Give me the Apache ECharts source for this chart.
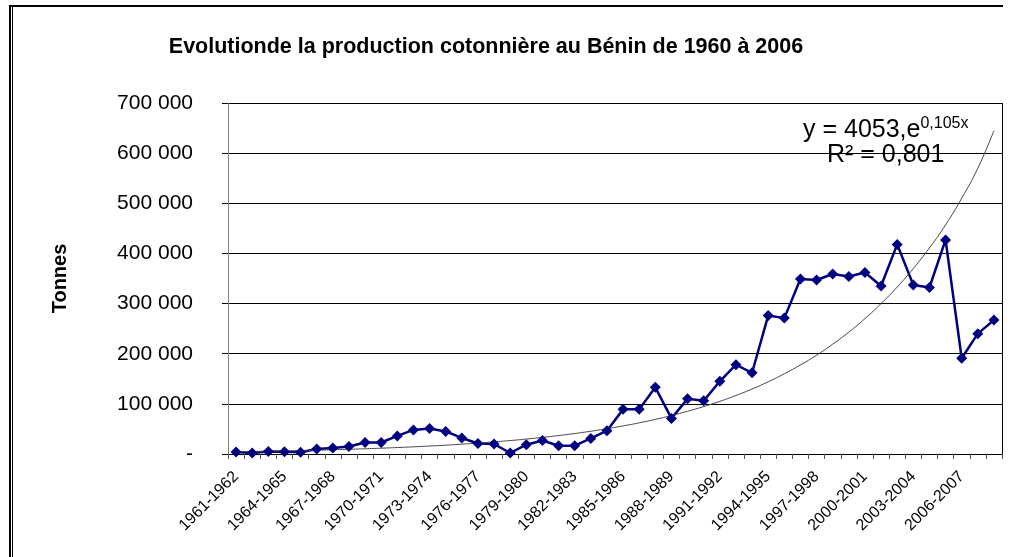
<!DOCTYPE html>
<html>
<head>
<meta charset="utf-8">
<title>Production cotonnière au Bénin</title>
<script src="https://cdn.jsdelivr.net/npm/echarts@6/dist/echarts.min.js"></script>
<style>
  html, body { margin: 0; padding: 0; background: #fff; }
  #chart { width: 1012px; height: 557px; }
</style>
</head>
<body>
<div id="chart"></div>
<script>
// campagnes 1961-1962 ... 2008-2009
var startYears = [];
for (var y = 1961; y <= 2008; y++) startYears.push(y);
var campagnes = startYears.map(function (y) { return y + '-' + (y + 1); });

// production (tonnes)
var production = [
  4000, 2000, 5000, 4600, 3300, 10000, 12000, 15000, 23000, 23000,
  36000, 48000, 51000, 45000, 32000, 21000, 20000, 2000, 18500, 27000,
  16500, 16500, 31000, 46500, 89000, 89000, 133000, 71000, 110000, 106000,
  145000, 178000, 162000, 276000, 271000, 349000, 347000, 359000, 354000, 362000,
  335000, 418000, 337000, 332000, 427000, 191000, 240000, 267000
];

// courbe de tendance exponentielle
var tendance = [
  4500, 5000, 5550, 6200, 6850, 7600, 8450, 9400, 10400, 11600,
  12900, 14300, 15900, 17600, 19600, 21700, 24200, 26800, 29800, 33100,
  36800, 40800, 45400, 50400, 56000, 62100, 69000, 76700, 85200, 94600,
  105000, 116700, 129600, 144000, 160000, 177600, 197000, 219000, 243000, 270000,
  300000, 333000, 370000, 411000, 457000, 510000, 570000, 645000
];

var yTicks = [0, 100000, 200000, 300000, 400000, 500000, 600000, 700000];

function fmt(v) {
  if (v === 0) return '-';
  return String(v).replace(/\B(?=(\d{3})+(?!\d))/g, ' ');
}

var chart = echarts.init(document.getElementById('chart'));
chart.setOption({
  animation: false,
  backgroundColor: '#fff',
  textStyle: { fontFamily: 'Liberation Sans, Arial, sans-serif' },
  title: {
    text: 'Evolutionde la production cotonnière au Bénin de 1960 à 2006',
    left: 481, top: 31, textAlign: 'center',
    textStyle: { fontSize: 21.5, fontWeight: 'bold', color: '#000' }
  },
  grid: { left: 228, right: 10, top: 103, bottom: 103 },
  xAxis: {
    type: 'category',
    data: campagnes,
    boundaryGap: true,
    axisLine: { lineStyle: { color: '#000', width: 1 } },
    axisTick: { show: true, interval: 0, length: 5, lineStyle: { color: '#555' } },
    axisLabel: { interval: 2, rotate: 45, fontSize: 16, color: '#000', margin: 20 },
    splitLine: { show: false }
  },
  yAxis: {
    type: 'value',
    min: yTicks[0], max: yTicks[yTicks.length - 1], interval: 100000,
    name: 'Tonnes', nameLocation: 'middle', nameRotate: 90, nameGap: 158,
    nameTextStyle: { fontSize: 20, fontWeight: 'bold', color: '#000' },
    axisLine: { show: true, lineStyle: { color: '#808080' } },
    axisTick: { show: true, length: 6, lineStyle: { color: '#000' } },
    axisLabel: { formatter: fmt, fontSize: 21, color: '#000', margin: 35 },
    splitLine: { lineStyle: { color: '#000', width: 1 } }
  },
  series: [
    {
      name: 'Production',
      type: 'line',
      data: production,
      symbol: 'diamond',
      symbolSize: 11,
      showAllSymbol: true,
      lineStyle: { color: '#000080', width: 2.5 },
      itemStyle: { color: '#000080' }
    },
    {
      name: 'Tendance',
      type: 'line',
      data: tendance,
      symbol: 'none',
      smooth: true,
      lineStyle: { color: '#444', width: 1 }
    }
  ],
  graphic: [
    { type: 'rect', shape: { x: 9, y: 5, width: 994, height: 2 }, style: { fill: '#000' } },
    { type: 'rect', shape: { x: 9, y: 5, width: 2, height: 552 }, style: { fill: '#000' } },
    { type: 'rect', shape: { x: 12, y: 5, width: 1, height: 552 }, style: { fill: '#000' } },
    { type: 'line', shape: { x1: 1002.5, y1: 103, x2: 1002.5, y2: 454 }, style: { stroke: '#000', lineWidth: 1 } },
    {
      type: 'text', left: 803, top: 116,
      style: {
        text: '{a|y = 4053,e}{b|0,105x}',
        rich: {
          a: { fontSize: 25, fill: '#000', fontFamily: 'Liberation Sans, Arial' },
          b: { fontSize: 16, fill: '#000', fontFamily: 'Liberation Sans, Arial', verticalAlign: 'top', padding: [0, 0, 13, 0] }
        }
      }
    },
    {
      type: 'text', left: 827, top: 143,
      style: { text: 'R² = 0,801', fontSize: 25, fill: '#000', fontFamily: 'Liberation Sans, Arial' }
    }
  ]
});
</script>
</body>
</html>
